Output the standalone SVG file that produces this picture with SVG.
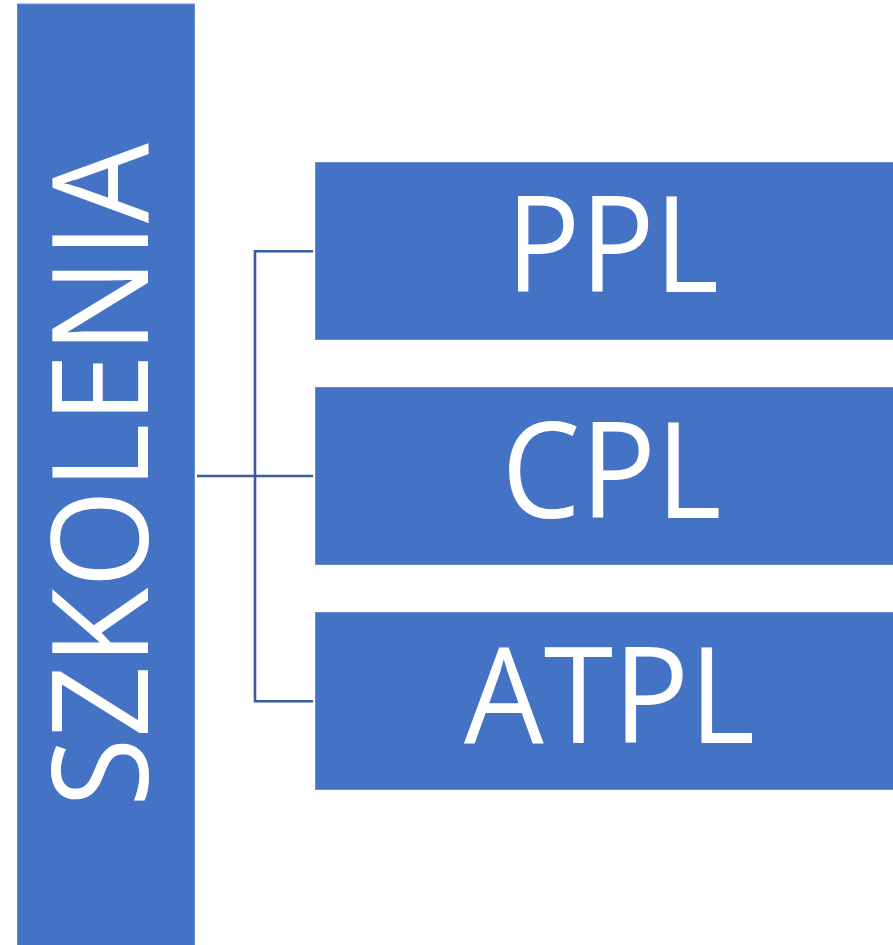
<svg xmlns="http://www.w3.org/2000/svg" width="893" height="945" viewBox="0 0 893 945">
  <style>
    .box { fill: #4472C4; stroke: #6A8FD0; stroke-width: 1; }
    .lbl { fill: #FFFFFF; font-family: "Open Sans", "Liberation Sans", sans-serif; font-size: 133px; text-anchor: middle; }
    .conn { fill: none; stroke: #3A5BA0; stroke-width: 2.6; }
  </style>
  <rect width="893" height="945" fill="#FFFFFF"/>
  <g id="connectors">
    <path class="conn" d="M197 476 H313"/>
    <path class="conn" d="M313 251.3 H255 V701.3 H313"/>
  </g>
  <g id="szkolenia">
    <rect class="box" x="17.5" y="4" width="177" height="945"/>
    <text class="lbl" transform="translate(148,475) rotate(-90)" x="0" y="0" textLength="664" lengthAdjust="spacingAndGlyphs">SZKOLENIA</text>
  </g>
  <g id="ppl">
    <rect class="box" x="315.5" y="162.5" width="580" height="177"/>
    <text class="lbl" x="612.5" y="292" textLength="213" lengthAdjust="spacingAndGlyphs">PPL</text>
  </g>
  <g id="cpl">
    <rect class="box" x="315.5" y="387.5" width="580" height="177"/>
    <text class="lbl" x="611.5" y="518" textLength="220" lengthAdjust="spacingAndGlyphs">CPL</text>
  </g>
  <g id="atpl">
    <rect class="box" x="315.5" y="612.5" width="580" height="177"/>
    <text class="lbl" x="609.5" y="743" textLength="291" lengthAdjust="spacingAndGlyphs">ATPL</text>
  </g>
</svg>
